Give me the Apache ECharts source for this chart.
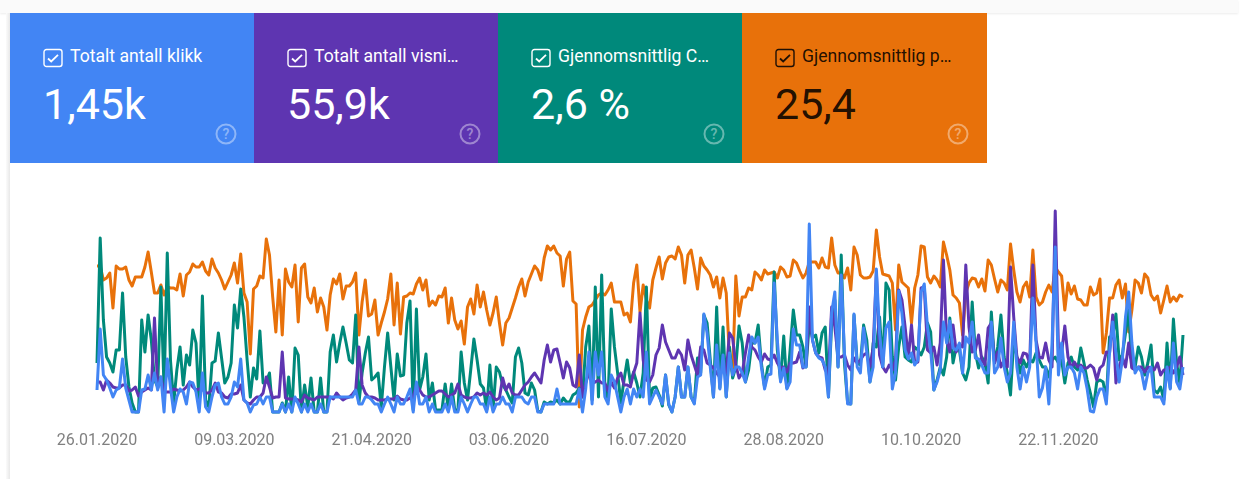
<!doctype html>
<html lang="nb">
<head>
  <meta charset="UTF-8">
  <title>Resultater</title>
  <style>
    html, body { margin: 0; padding: 0; background: #fff; }
    #wrap { position: relative; width: 1243px; height: 479px; overflow: hidden; font-family: Roboto, sans-serif; background: #fff; }
    #topbar { position: absolute; left: 0; top: 0; width: 1238px; height: 13px; background: #fafafa; box-shadow: 0 1px 2px rgba(0, 0, 0, 0.08); }
    #leftbar { position: absolute; left: 6px; top: 13px; width: 4px; height: 466px; background: linear-gradient(to right, #fbfbfb, #e8e8e8); }
    .card { position: absolute; top: 13px; width: 244px; height: 150px; color: #fff; }
    .card .box { position: absolute; left: 33px; top: 34.5px; }
    .card .name { position: absolute; left: 60px; top: 33px; font-size: 17.6px; line-height: 20px; white-space: nowrap; }
    .card .num { position: absolute; left: 33px; top: 63px; font-size: 43px; line-height: 56px; white-space: nowrap; }
    .card .help { position: absolute; left: 205px; top: 110px; opacity: 0.4; }
    .dark { color: rgba(0, 0, 0, 0.87); }
    #chart { position: absolute; left: 0; top: 0; width: 1243px; height: 479px; }
  </style>
  <script src="https://cdn.jsdelivr.net/npm/echarts@6/dist/echarts.min.js"></script>
</head>
<body>
<div id="wrap">
  <div id="topbar"></div>
  <div id="leftbar"></div>
  <div id="chart"></div>
  <div id="cards"></div>
</div>
<script>

  var cardNames = ['Totalt antall klikk', 'Totalt antall visni…', 'Gjennomsnittlig C…', 'Gjennomsnittlig p…'];
  var cardValues = ['1,45k', '55,9k', '2,6 %', '25,4'];
  var cardColors = ['#4285f4', '#5e35b1', '#00897b', '#e8710a'];
  var startDate = [2020, 0, 26];
  var dayCount = 341;

  // relative height on a shared hidden scale (the four metrics have own scales in the original)
  var clicks = [
    22,83,37,32,24,15,22,24,53,24,12,0,0,0,22,23,37,22,39,22,35,0,53,25,0,15,23,20,8,30,29,20,0,39,5,0,15,27,29,15,
    8,8,15,30,25,53,12,9,0,7,8,15,8,15,15,0,0,0,8,0,8,0,15,8,0,8,0,8,0,0,8,0,0,15,15,15,15,15,15,15,15,22,8,8,15,15,
    12,8,8,0,8,15,8,0,15,8,8,15,23,0,30,8,8,15,0,8,0,0,0,8,0,15,0,0,15,8,0,8,15,15,8,8,0,15,0,8,8,15,8,8,0,15,15,15,
    10,8,15,15,0,0,8,8,8,8,23,8,8,8,8,8,8,23,0,23,60,8,60,37,60,15,8,37,30,15,0,15,23,8,23,15,23,
    15,60,8,15,22,15,8,37,8,0,15,45,15,15,45,15,8,35,37,98,79,45,15,67,23,57,15,59,37,45,45,39,30,55,75,69,75,45,23,37,38,
    129,72,30,44,23,30,83,67,67,45,45,188,72,59,54,52,45,15,99,120,45,137,60,8,8,98,45,39,84,60,30,45,143,79,45,84,90,23,39,121,99,62,53,59,
    47,52,120,128,85,62,22,30,42,90,69,91,64,62,69,39,75,69,90,54,53,47,39,39,90,39,45,74,45,30,39,90,45,23,45,30,45,114,69,15,24,45,8,69,165,37,69,37,45,45,
    39,23,45,39,23,1,0,15,23,23,8,59,90,59,30,52,95,120,69,39,45,40,23,39,45,15,15,15,8,45,23,69,30,23,45
  ];
  var impressions = [
    30,30,22,32,29,25,24,24,27,27,21,22,25,16,20,22,24,22,94,24,35,20,20,20,23,22,21,22,25,30,25,22,23,23,19,19,22,29,20,19,
    15,14,18,18,19,27,12,9,8,12,15,15,19,35,25,14,15,15,60,14,13,13,13,12,10,17,14,13,12,15,15,15,15,15,13,19,15,12,14,15,18,22,65,27,19,15,
    15,14,12,12,12,13,13,13,16,13,12,12,14,15,27,22,17,15,15,17,19,21,21,18,15,17,19,28,17,15,14,14,15,19,17,19,17,20,15,12,14,34,22,28,19,17,17,22,27,30,35,39,34,29,
    52,67,50,62,63,49,34,50,44,27,25,57,15,29,39,29,30,32,29,29,21,30,24,34,39,27,27,25,39,49,99,
    52,32,30,37,57,64,87,70,62,54,54,62,57,42,72,57,47,37,65,62,49,47,44,39,35,47,39,79,74,47,34,39,59,77,65,62,55,50,58,53,52,57,49,44,45,40,49,49,50,60,44,47,
    105,72,59,55,54,42,37,105,85,55,55,57,47,42,54,49,52,57,59,45,64,140,57,45,40,47,42,52,122,112,85,54,87,
    49,50,124,125,62,59,65,47,69,152,72,60,87,60,67,65,147,85,60,62,77,52,47,84,89,49,60,45,52,45,145,95,55,49,59,58,49,147,72,55,54,69,52,45,201,65,59,86,55,44,
    50,45,47,44,44,47,44,32,44,47,60,59,97,29,45,55,45,69,44,42,45,45,40,45,44,42,49,37,42,42,45,39,45,55,37
  ];
  var ctr = [
    49,174,92,55,49,40,62,62,119,55,25,9,0,0,92,60,97,72,32,25,125,22,159,52,9,42,65,27,57,47,82,69,5,116,12,5,49,51,79,54,
    29,35,49,107,84,123,95,52,15,44,33,81,29,30,39,0,0,0,9,0,35,0,64,57,0,27,5,34,0,0,34,0,0,60,77,50,69,85,69,52,49,97,9,39,59,75,
    32,35,39,5,45,79,45,12,58,36,37,89,111,2,103,22,35,58,12,29,2,2,2,28,2,28,2,2,60,29,12,42,73,52,28,24,2,47,2,45,40,27,22,15,9,55,64,49,19,17,29,22,1,0,
    10,8,10,9,12,8,14,10,10,17,19,24,15,65,86,12,125,15,137,25,12,103,65,39,9,32,52,29,40,29,15,
    39,125,12,24,25,17,6,37,7,0,15,45,15,15,45,15,9,54,39,97,89,52,15,105,24,85,15,65,34,45,86,69,30,42,69,69,87,49,25,45,47,140,62,32,76,24,62,102,77,77,65,45,
    89,74,77,59,79,85,15,89,112,45,157,49,9,8,97,49,47,87,72,30,69,65,95,45,129,122,55,32,65,85,55,52,50,
    65,62,57,65,89,80,22,32,45,37,55,94,49,65,62,39,32,45,110,59,44,55,49,29,100,49,65,97,55,39,17,72,55,39,52,45,52,50,59,52,45,45,35,52,55,49,52,29,49,55,
    45,42,64,49,32,19,5,30,32,30,12,75,75,98,52,57,79,102,45,45,65,55,37,49,67,22,19,25,12,69,24,93,49,29,77
  ];
  var position = [
    146,146,132,134,139,104,146,143,143,145,132,126,135,135,135,145,160,140,119,119,127,117,125,124,124,122,138,116,137,140,148,145,145,150,141,137,153,144,139,132,
    123,130,137,149,129,158,119,110,58,123,126,136,134,173,157,115,80,132,77,143,130,125,147,90,144,148,115,109,124,100,114,105,82,117,133,128,138,113,126,126,130,139,77,110,132,96,
    98,112,77,89,100,113,138,87,129,78,115,116,119,118,128,134,122,132,106,111,107,116,115,124,89,114,92,83,91,68,105,113,98,127,105,120,102,87,99,115,89,67,89,94,104,114,125,133,116,130,
    138,146,142,132,154,166,162,166,159,156,126,153,160,111,108,5,82,95,105,107,112,117,119,117,122,129,110,110,110,97,99,90,129,147,100,
    127,112,104,132,144,155,133,149,155,156,153,165,157,129,157,162,144,123,154,146,142,137,125,135,114,134,119,55,39,136,96,115,115,124,122,140,137,132,142,138,139,140,134,145,142,135,136,152,149,141,
    134,139,150,150,150,144,154,145,144,174,147,139,139,134,144,122,165,157,137,134,134,135,141,182,155,138,137,136,129,82,147,130,127,124,89,
    124,137,166,165,135,129,136,132,125,170,157,142,117,114,109,77,119,129,134,133,125,133,121,152,147,133,120,132,129,122,168,142,120,110,125,130,115,162,115,107,110,120,127,120,145,140,136,102,129,118,
    126,113,112,107,107,125,117,119,133,59,79,114,114,127,132,114,128,80,102,132,129,119,138,134,117,112,116,99,112,126,110,115,111,117,115
  ];

  // 26.01.2020 -> 31.12.2020, one category per day
  var categories = [];
  for (var d = 0; d < dayCount; d++) {
    var day = new Date(Date.UTC(startDate[0], startDate[1], startDate[2] + d));
    var dd = ('0' + day.getUTCDate()).slice(-2);
    var mm = ('0' + (day.getUTCMonth() + 1)).slice(-2);
    categories.push(dd + '.' + mm + '.' + day.getUTCFullYear());
  }

  var boxSvg = function (stroke) {
    return '<svg width="20" height="20" viewBox="0 0 20 20"><rect x="1" y="1.5" width="18" height="17" rx="2.5" fill="none" stroke="' + stroke + '" stroke-width="1.4"/>' +
      '<path d="M5 10.5l3.2 3L15 6.8" fill="none" stroke="' + stroke + '" stroke-width="1.8"/></svg>';
  };
  var helpSvg = function (stroke) {
    return '<svg width="22" height="22" viewBox="0 0 22 22"><circle cx="11" cy="11" r="9.5" fill="none" stroke="' + stroke + '" stroke-width="2"/>' +
      '<text x="11" y="16" text-anchor="middle" font-family="Roboto" font-weight="500" font-size="14" fill="' + stroke + '">?</text></svg>';
  };

  var cardsHtml = '';
  cardNames.forEach(function (name, i) {
    var dark = i === 3;
    var ink = dark ? '#1f1005' : '#ffffff';
    cardsHtml += '<div class="card' + (dark ? ' dark' : '') + '" style="left:' + (10 + 244 * i) + 'px;width:' + (dark ? 245 : 244) + 'px;background:' + cardColors[i] + '">' +
      '<div class="box">' + boxSvg(ink) + '</div>' +
      '<div class="name">' + name + '</div>' +
      '<div class="num">' + cardValues[i] + '</div>' +
      '<div class="help">' + helpSvg('#ffffff') + '</div>' +
      '</div>';
  });
  document.getElementById('cards').innerHTML = cardsHtml;

  var makeSeries = function (name, data, color) {
    return {
      name: name,
      type: 'line',
      data: data,
      symbol: 'none',
      smooth: false,
      clip: false,
      lineStyle: { color: color, width: 3, join: 'round' }
    };
  };

  var chart = echarts.init(document.getElementById('chart'));
  chart.setOption({
    animation: false,
    grid: { left: 97, right: 60, top: 210, bottom: 67 },
    xAxis: {
      type: 'category',
      boundaryGap: false,
      data: categories,
      axisLine: { show: false },
      axisTick: { show: false },
      axisLabel: { interval: 42, color: '#808080', fontFamily: 'Roboto', fontSize: 16, margin: 21, hideOverlap: false }
    },
    yAxis: { type: 'value', min: 0, max: 202, show: false },
    series: [
      makeSeries('Gjennomsnittlig posisjon', position, cardColors[3]),
      makeSeries('Gjennomsnittlig CTR', ctr, cardColors[2]),
      makeSeries('Totalt antall visninger', impressions, cardColors[1]),
      makeSeries('Totalt antall klikk', clicks, cardColors[0])
    ]
  });

</script>
</body>
</html>
